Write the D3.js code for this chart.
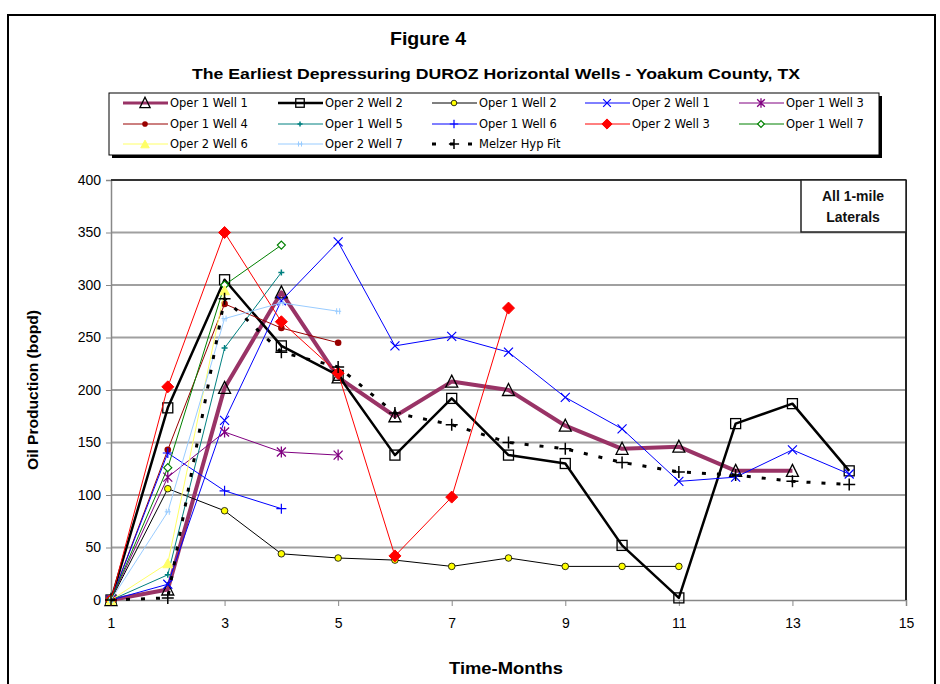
<!DOCTYPE html>
<html>
<head>
<meta charset="utf-8">
<script src="https://cdn.jsdelivr.net/npm/d3@7/dist/d3.min.js"></script>
<style>
  html, body { margin: 0; padding: 0; background: #fff; }
  svg { display: block; }
</style>
</head>
<body>
<svg id="chart" width="940" height="684"></svg>
<script>
// ---------------- DATA ----------------
const months = [1, 2, 3, 4, 5, 6, 7, 8, 9, 10, 11, 12, 13, 14];
const xTickValues = [1, 3, 5, 7, 9, 11, 13, 15];
const yTickValues = [0, 50, 100, 150, 200, 250, 300, 350, 400];

const seriesNames = [
  "Oper 1 Well 1", "Oper 2 Well 2", "Oper 1 Well 2", "Oper 2 Well 1", "Oper 1 Well 3",
  "Oper 1 Well 4", "Oper 1 Well 5", "Oper 1 Well 6", "Oper 2 Well 3", "Oper 1 Well 7",
  "Oper 2 Well 6", "Oper 2 Well 7", "Melzer Hyp Fit"
];

const oper1Well1 = [0, 10, 202, 293, 212, 175, 208, 200, 166, 144, 146, 123, 123];
const oper2Well2 = [0, 183, 305, 242, 214, 138, 192, 138, 130, 52, 2, 168, 187, 123];
const oper1Well2 = [0, 106, 85, 44, 40, 38, 32, 40, 32, 32, 32];
const oper2Well1 = [0, 15, 171, 285, 341, 242, 251, 236, 193, 163, 113, 117, 143, 120];
const oper1Well3 = [0, 117, 160, 141, 138];
const oper1Well4 = [0, 143, 282, 259, 245];
const oper1Well5 = [0, 24, 240, 312];
const oper1Well6 = [0, 140, 104, 87];
const oper2Well3 = [0, 203, 350, 265, 216, 42, 98, 278];
const oper1Well7 = [0, 126, 300, 338];
const oper2Well6 = [0, 35, 295];
const oper2Well7 = [0, 84, 268, 283, 275];
const melzerHypFit = [0, 2, 287, 236, 222, 178, 167, 150, 144, 131, 122, 119, 113, 110];

const seriesValues = [
  oper1Well1, oper2Well2, oper1Well2, oper2Well1, oper1Well3,
  oper1Well4, oper1Well5, oper1Well6, oper2Well3, oper1Well7,
  oper2Well6, oper2Well7, melzerHypFit
];

// ---------------- STYLES ----------------
const styles = [
  { color: "#993366", width: 4,   marker: "triOpen",   mcolor: "#000" },
  { color: "#000000", width: 2.5, marker: "sqOpen",    mcolor: "#000" },
  { color: "#000000", width: 1,   marker: "circYellow",mcolor: "#000" },
  { color: "#0000ff", width: 1,   marker: "x",         mcolor: "#0000ff" },
  { color: "#800080", width: 1,   marker: "star",      mcolor: "#800080" },
  { color: "#990000", width: 1,   marker: "dot",       mcolor: "#990000" },
  { color: "#008080", width: 1,   marker: "smallPlus", mcolor: "#008080" },
  { color: "#0000ff", width: 1,   marker: "plus",      mcolor: "#0000ff" },
  { color: "#ff0000", width: 1,   marker: "diamond",   mcolor: "#ff0000" },
  { color: "#008000", width: 1,   marker: "diamondOpen", mcolor: "#008000" },
  { color: "#ffff66", width: 1,   marker: "triFill",   mcolor: "#ffff66" },
  { color: "#99ccff", width: 1,   marker: "smallStar", mcolor: "#99ccff" },
  { color: "#000000", width: 3,   marker: "plusBig",   mcolor: "#000", dash: "4,11" }
];

const svg = d3.select("#chart");
const narrow = "'Liberation Sans Narrow', 'Liberation Sans', Arial, sans-serif";

// outer frame
svg.append("rect").attr("x", 8).attr("y", 15).attr("width", 927).attr("height", 700)
  .attr("fill", "#fff").attr("stroke", "#000").attr("stroke-width", 2);

// titles
svg.append("text").attr("x", 428).attr("y", 45).attr("text-anchor", "middle")
  .attr("font-family", narrow).attr("font-size", 18).attr("font-weight", "bold")
  .attr("textLength", 76).attr("lengthAdjust", "spacingAndGlyphs")
  .text("Figure 4");
svg.append("text").attr("x", 496).attr("y", 79).attr("text-anchor", "middle")
  .attr("font-family", narrow).attr("font-size", 15).attr("font-weight", "bold")
  .attr("textLength", 608).attr("lengthAdjust", "spacingAndGlyphs")
  .text("The Earliest Depressuring DUROZ Horizontal Wells - Yoakum County, TX");

// ---------------- SCALES ----------------
const x = d3.scaleLinear().domain([1, 15]).range([111, 906]);
const y = d3.scaleLinear().domain([0, 400]).range([600, 180]);

// gridlines
svg.append("g").selectAll("line").data(yTickValues.filter(d => d > 0 && d < 400)).join("line")
  .attr("x1", x(1)).attr("x2", x(15)).attr("y1", d => y(d)).attr("y2", d => y(d))
  .attr("stroke", "#a0a0a0").attr("stroke-width", 2);

// axes
const yAxis = d3.axisLeft(y).tickValues(yTickValues).tickSize(5).tickPadding(5);
const gy = svg.append("g").attr("transform", `translate(${x(1)},0)`).call(yAxis);
gy.select(".domain").attr("stroke", "#888").attr("stroke-width", 1.5);
gy.selectAll(".tick line").attr("stroke", "#888");
gy.selectAll(".tick text").attr("font-family", narrow).attr("font-size", 14).attr("fill", "#000");

const xAxis = d3.axisBottom(x).tickValues(xTickValues).tickSize(6).tickPadding(12);
const gx = svg.append("g").attr("transform", `translate(0,${y(0)})`).call(xAxis);
gx.select(".domain").attr("stroke", "#888").attr("stroke-width", 1.5);
gx.selectAll(".tick line").attr("stroke", "#888");
gx.selectAll(".tick text").attr("font-family", narrow).attr("font-size", 14).attr("fill", "#000");

// plot border top/right
svg.append("line").attr("x1", x(1)).attr("x2", x(15)).attr("y1", y(400)).attr("y2", y(400))
  .attr("stroke", "#333").attr("stroke-width", 2);
svg.append("line").attr("x1", x(15)).attr("x2", x(15)).attr("y1", y(400)).attr("y2", y(0))
  .attr("stroke", "#222").attr("stroke-width", 2);

// axis titles
svg.append("text").attr("transform", `translate(38,390) rotate(-90)`).attr("text-anchor", "middle")
  .attr("font-family", "'Liberation Sans', Arial, sans-serif").attr("font-size", 14).attr("font-weight", "bold")
  .attr("textLength", 160).attr("lengthAdjust", "spacingAndGlyphs")
  .text("Oil Production (bopd)");
svg.append("text").attr("x", 506).attr("y", 674).attr("text-anchor", "middle")
  .attr("font-family", narrow).attr("font-size", 16).attr("font-weight", "bold")
  .attr("textLength", 114).attr("lengthAdjust", "spacingAndGlyphs")
  .text("Time-Months");

// ---------------- MARKERS ----------------
function drawMarker(g, type, cx, cy, st, scale) {
  const s = scale || 1;
  const c = st.mcolor;
  switch (type) {
    case "triOpen": {
      const h = 11 * s, w = 12 * s;
      g.append("path").attr("d", `M${cx},${cy - h / 2 - 1}L${cx + w / 2},${cy + h / 2}L${cx - w / 2},${cy + h / 2}Z`)
        .attr("fill", "none").attr("stroke", c).attr("stroke-width", 1.3);
      break;
    }
    case "triFill": {
      const h = 9 * s, w = 10 * s;
      g.append("path").attr("d", `M${cx},${cy - h / 2}L${cx + w / 2},${cy + h / 2}L${cx - w / 2},${cy + h / 2}Z`)
        .attr("fill", c).attr("stroke", c).attr("stroke-width", 1);
      break;
    }
    case "sqOpen": {
      const a = 10 * s;
      g.append("rect").attr("x", cx - a / 2).attr("y", cy - a / 2).attr("width", a).attr("height", a)
        .attr("fill", "none").attr("stroke", c).attr("stroke-width", 1.3);
      break;
    }
    case "circYellow":
      g.append("circle").attr("cx", cx).attr("cy", cy).attr("r", 3.3 * s)
        .attr("fill", "#ffff00").attr("stroke", "#000").attr("stroke-width", 0.8);
      break;
    case "dot":
      g.append("circle").attr("cx", cx).attr("cy", cy).attr("r", 3.3 * s).attr("fill", c);
      break;
    case "x": {
      const a = 4.5 * s;
      g.append("path").attr("d", `M${cx - a},${cy - a}L${cx + a},${cy + a}M${cx - a},${cy + a}L${cx + a},${cy - a}`)
        .attr("stroke", c).attr("stroke-width", 1.2).attr("fill", "none");
      break;
    }
    case "star": {
      const a = 4.5 * s;
      g.append("path").attr("d", `M${cx - a},${cy - a}L${cx + a},${cy + a}M${cx - a},${cy + a}L${cx + a},${cy - a}M${cx},${cy - a - 1}L${cx},${cy + a + 1}`)
        .attr("stroke", c).attr("stroke-width", 1.3).attr("fill", "none");
      break;
    }
    case "smallStar": {
      const a = 3 * s;
      g.append("path").attr("d", `M${cx - a},${cy}L${cx + a},${cy}M${cx - 1.5},${cy - a}L${cx - 1.5},${cy + a}M${cx + 1.5},${cy - a}L${cx + 1.5},${cy + a}`)
        .attr("stroke", c).attr("stroke-width", 1).attr("fill", "none");
      break;
    }
    case "smallPlus": {
      const a = 3 * s;
      g.append("path").attr("d", `M${cx - a},${cy}L${cx + a},${cy}M${cx},${cy - a}L${cx},${cy + a}`)
        .attr("stroke", c).attr("stroke-width", 1.5).attr("fill", "none");
      break;
    }
    case "plus": {
      const a = 5 * s;
      g.append("path").attr("d", `M${cx - a},${cy}L${cx + a},${cy}M${cx},${cy - a}L${cx},${cy + a}`)
        .attr("stroke", c).attr("stroke-width", 1.2).attr("fill", "none");
      break;
    }
    case "plusBig": {
      const a = 6 * s;
      g.append("path").attr("d", `M${cx - a},${cy}L${cx + a},${cy}M${cx},${cy - a}L${cx},${cy + a}`)
        .attr("stroke", c).attr("stroke-width", 1.5).attr("fill", "none");
      break;
    }
    case "diamond": {
      const a = 6 * s;
      g.append("path").attr("d", `M${cx},${cy - a}L${cx + a},${cy}L${cx},${cy + a}L${cx - a},${cy}Z`)
        .attr("fill", c).attr("stroke", c);
      break;
    }
    case "diamondOpen": {
      const a = 4 * s;
      g.append("path").attr("d", `M${cx},${cy - a}L${cx + a},${cy}L${cx},${cy + a}L${cx - a},${cy}Z`)
        .attr("fill", "#fff").attr("stroke", c).attr("stroke-width", 1.2);
      break;
    }
  }
}

// ---------------- SERIES ----------------
const line = d3.line().x(d => x(d.m)).y(d => y(d.v));
const plot = svg.append("g");
seriesValues.forEach((vals, i) => {
  const st = styles[i];
  const pts = vals.map((v, j) => ({ m: months[j], v }));
  const g = plot.append("g");
  g.append("path").datum(pts).attr("d", line)
    .attr("fill", "none").attr("stroke", st.color).attr("stroke-width", st.width)
    .attr("stroke-linejoin", "round")
    .attr("stroke-dasharray", st.dash || null);
  pts.forEach(p => drawMarker(g, st.marker, x(p.m), y(p.v), st));
});

// ---------------- ANNOTATION BOX ----------------
svg.append("rect").attr("x", 801).attr("y", y(400)).attr("width", x(15) - 801).attr("height", 52)
  .attr("fill", "#fff").attr("stroke", "#222").attr("stroke-width", 1.5);
const ann = svg.append("text").attr("text-anchor", "middle")
  .attr("font-family", "'Liberation Sans', Arial, sans-serif").attr("font-size", 14).attr("font-weight", "bold")
  .attr("fill", "#111");
ann.append("tspan").attr("x", 853).attr("y", 201).text("All 1-mile");
ann.append("tspan").attr("x", 853).attr("y", 222).text("Laterals");

// ---------------- LEGEND ----------------
const legCols = [123, 278, 432, 585, 739];
const legRows = [103, 124, 144];
svg.append("rect").attr("x", 112).attr("y", 96).attr("width", 770).attr("height", 62).attr("fill", "#000");
svg.append("rect").attr("x", 109).attr("y", 93).attr("width", 770).attr("height", 62)
  .attr("fill", "#fff").attr("stroke", "#000").attr("stroke-width", 1);
seriesNames.forEach((name, i) => {
  const st = styles[i];
  const cx0 = legCols[i % 5], cy = legRows[Math.floor(i / 5)];
  const g = svg.append("g");
  g.append("line").attr("x1", cx0).attr("x2", cx0 + 45).attr("y1", cy).attr("y2", cy)
    .attr("stroke", st.color).attr("stroke-width", Math.min(st.width, 3))
    .attr("stroke-dasharray", st.dash ? "4,14" : null);
  drawMarker(g, st.marker, cx0 + 22, cy, st, 0.85);
  g.append("text").attr("x", cx0 + 47).attr("y", cy + 4)
    .attr("font-family", "'DejaVu Sans', Verdana, sans-serif").attr("font-size", 11.5).attr("fill", "#000")
    .text(name);
});
</script>
</body>
</html>
